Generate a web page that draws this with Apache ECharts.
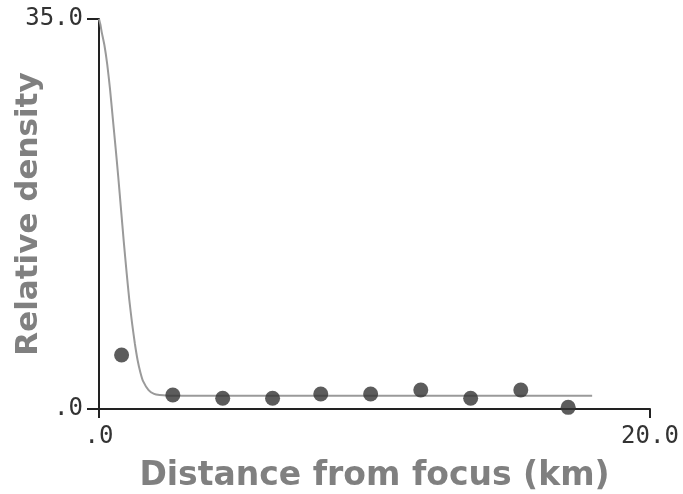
<!DOCTYPE html>
<html>
<head>
<meta charset="utf-8">
<script src="https://cdn.jsdelivr.net/npm/echarts@6/dist/echarts.min.js"></script>
<style>
html, body { margin: 0; padding: 0; background: #fff; }
#chart { width: 683px; height: 494px; }
</style>
</head>
<body>
<div id="chart"></div>
<script>
// observed points
var obsX = [0.82, 2.68, 4.49, 6.30, 8.05, 9.86, 11.68, 13.49, 15.31, 17.03];
var obsY = [4.85, 1.25, 0.96, 0.96, 1.34, 1.34, 1.70, 0.96, 1.70, 0.15];

// fitted curve
var fitX = [0, 0.05, 0.1, 0.2, 0.3, 0.4, 0.5, 0.6, 0.7, 0.8, 0.9, 1.0, 1.1, 1.2, 1.3, 1.4, 1.5, 1.6, 1.8, 2.0, 2.2, 2.5, 3.0, 17.9];
var fitY = [35, 34.5, 33.8, 32.6, 30.9, 28.7, 26.1, 23.5, 20.8, 17.9, 15.0, 12.3, 9.8, 7.7, 5.9, 4.4, 3.3, 2.5, 1.7, 1.35, 1.25, 1.2, 1.19, 1.19];

var xRange = [0, 20];
var yRange = [0, 35];

function pairs(xs, ys) {
	var out = [];
	for (var i = 0; i < xs.length; i++) out.push([xs[i], ys[i]]);
	return out;
}
function tickLabel(v) {
	return v === 0 ? '.0' : v.toFixed(1);
}

var chart = echarts.init(document.getElementById('chart'));
chart.setOption({
	animation: false,
	backgroundColor: '#fff',
	grid: { left: 99, top: 19, width: 551, height: 390, containLabel: false, outerBoundsMode: 'none' },
	xAxis: {
		type: 'value',
		min: xRange[0], max: xRange[1], interval: 20,
		name: 'Distance from focus (km)',
		nameLocation: 'middle',
		nameGap: 51,
		nameMoveOverlap: false,
		nameTextStyle: { fontFamily: 'DejaVu Sans', fontWeight: 'bold', fontSize: 33, color: '#808080' },
		axisLine: { lineStyle: { color: '#222', width: 2 } },
		axisTick: { length: 9, lineStyle: { color: '#222', width: 2 } },
		axisLabel: { formatter: tickLabel, margin: 16, fontFamily: 'DejaVu Sans Mono', fontSize: 24, color: '#333' },
		splitLine: { show: false }
	},
	yAxis: {
		type: 'value',
		min: yRange[0], max: yRange[1], interval: 35,
		name: 'Relative density',
		nameLocation: 'middle',
		nameGap: 55,
		nameMoveOverlap: false,
		nameTextStyle: { fontFamily: 'DejaVu Sans', fontWeight: 'bold', fontSize: 31, color: '#808080' },
		axisLine: { show: true, lineStyle: { color: '#222', width: 2 } },
		axisTick: { show: true, length: 12, lineStyle: { color: '#222', width: 2 } },
		axisLabel: { formatter: tickLabel, margin: 16, fontFamily: 'DejaVu Sans Mono', fontSize: 24, color: '#333' },
		splitLine: { show: false }
	},
	series: [{
		type: 'line',
		data: pairs(fitX, fitY),
		smooth: 0.2,
		showSymbol: false,
		lineStyle: { color: '#9a9a9a', width: 2 },
		z: 2
	}, {
		type: 'scatter',
		data: pairs(obsX, obsY),
		symbol: 'circle',
		symbolSize: 15,
		itemStyle: { color: '#333' },
		z: 3
	}]
});
</script>
</body>
</html>
